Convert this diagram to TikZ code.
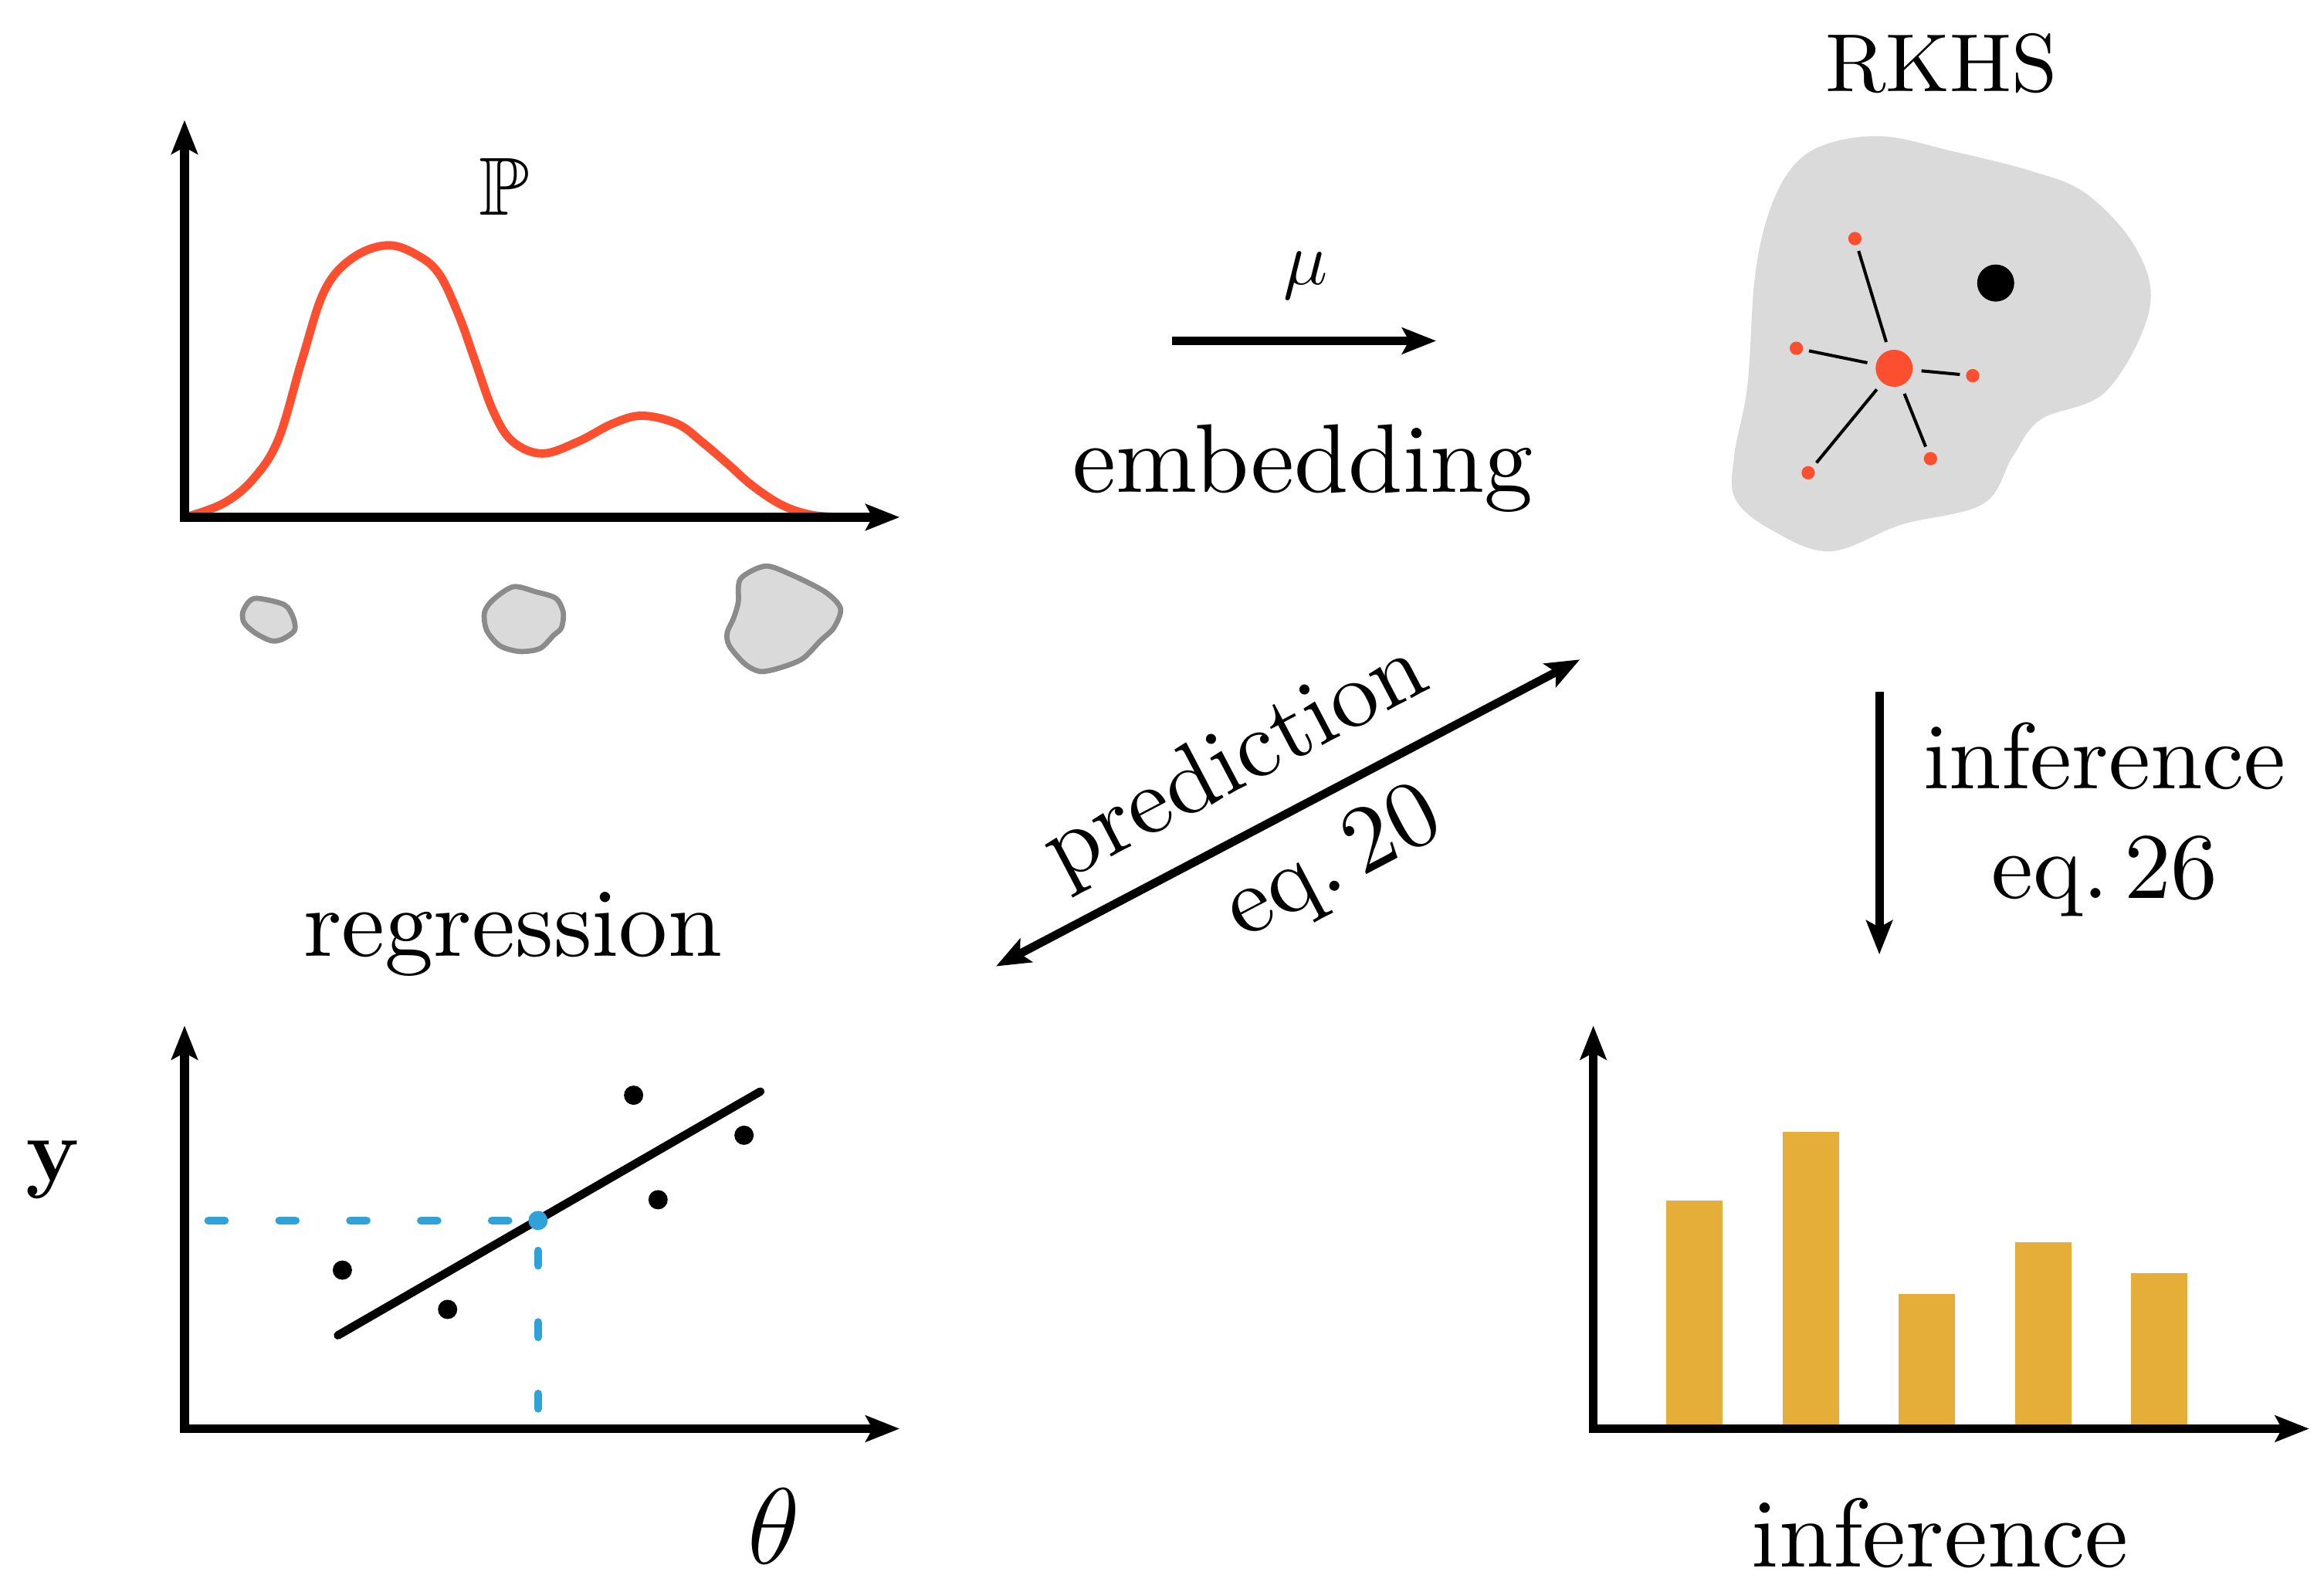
\documentclass[tikz,border=0pt]{standalone}
\usepackage{amsmath}
\usepackage{amssymb}
\usepackage[no-math]{fontspec}
\setmainfont{lmroman10-regular}[Extension=.otf]
\usepackage{tikz}
\usetikzlibrary{positioning, arrows.meta}

\definecolor{densityred}{HTML}{FC4F30}
\definecolor{bargold}{HTML}{E5AE38}
\definecolor{fitblue}{HTML}{30A2DA}
\definecolor{spacegray}{HTML}{DADADA}
\definecolor{edgegray}{HTML}{8B8B8B}

\begin{document}
\begin{tikzpicture}[
x=0.01cm, y=-0.01cm,
lbl/.style={anchor=base, inner sep=0pt, font=\fontsize{18.7}{22}\selectfont},
sidelbl/.style={anchor=base, inner sep=0pt, font=\fontsize{18}{22}\selectfont},
smalllbl/.style={anchor=base, inner sep=0pt, font=\fontsize{15.8}{19}\selectfont},
axisline/.style={line width=1.7pt, <->},
flow/.style={line width=1.6pt},
sample/.style={circle, fill=black, inner sep=0pt, minimum size=0.13cm},
feature/.style={circle, fill=densityred, inner sep=0pt, minimum size=0.09cm},
blob/.style={fill=spacegray, draw=edgegray, line width=1pt},
>={Stealth[length=6.5pt, width=5pt, inset=1.3pt]}
]
\useasboundingbox (0,0) rectangle (1568,1074);

\draw[densityred, line width=1.6pt] plot[smooth, tension=0.6] coordinates {
  (125,349) (151,339.5) (171,323) (188,296) (204,242) (219,196) (238,174)
  (262,165.5) (283,173) (297,186) (310,214) (320,242) (333,278) (346,298)
  (366,306) (390,298) (413,286) (433,280.5) (457,286) (474,298.5) (491,313)
  (508,328) (528,341) (548,347.5) (570,349)};
\coordinate (p-o) at (124.5,349);
\coordinate (p-y) at (124.5,81);
\coordinate (p-x) at (607,349);
\draw[axisline] (p-y) -- (p-o) -- (p-x);
\node[smalllbl] (pp) at (340,145) {$\mathbb{P}$};

\filldraw[blob] plot[smooth cycle] coordinates {
  (173.7,403.7) (191.8,408) (197.8,416.7) (198.7,425.4) (190.3,431.4)
  (182.8,432.3) (172.2,427.1) (164.7,420.2) (163.8,413.2) (167.7,406.3)};
\filldraw[blob] plot[smooth cycle] coordinates {
  (346.4,395.9) (361.4,399.3) (375,403.7) (380,413.2) (378.8,423.6)
  (373.4,428.8) (364.4,437.5) (350.9,439.6) (337.4,435.8) (328.4,425.4)
  (326.9,413.2) (332.9,404.5)};
\filldraw[blob] plot[smooth cycle] coordinates {
  (516.1,382) (532.6,387.2) (556.6,399.3) (567.1,410.6) (562.6,423.6)
  (553.6,432.3) (541.6,444.4) (526.6,450.5) (513.1,453.1) (502.6,448)
  (492.1,435.8) (490.6,427.1) (495.1,416.7) (498.1,406.3) (499.6,390.6)};

\coordinate (emb-l) at (791,230);
\coordinate (emb-r) at (969,230);
\draw[flow, ->] (emb-l) -- (emb-r);
\node[smalllbl] (mu) at (881,192) {$\mu$};
\node[lbl] (emb) at (879,332) {embedding};

\node[smalllbl] (rkhs) at (1310,62) {RKHS};
\fill[spacegray] plot[smooth cycle, tension=0.6] coordinates {
  (1271,92) (1233,97) (1210,112) (1194,142) (1184,187) (1179,260) (1170,308)
  (1171,337) (1196,358) (1235,372) (1283,354) (1338,340) (1358,308)
  (1377,283) (1421,264) (1450,210) (1442,169) (1408,131) (1369,115)
  (1317,102)};
\node[circle, fill=densityred, inner sep=0pt, minimum size=0.25cm] (c) at (1278,248.5) {};
\node[feature] (f1) at (1251.5,161) {};
\node[feature] (f2) at (1212,235) {};
\node[feature] (f3) at (1331,253.5) {};
\node[feature] (f4) at (1220,319) {};
\node[feature] (f5) at (1302.5,309.5) {};
\node[circle, fill=black, inner sep=0pt, minimum size=0.25cm] (m) at (1346.5,191) {};
\draw[line width=0.6pt, shorten <=1.5pt, shorten >=1pt] (c) -- (f1);
\draw[line width=0.6pt, shorten <=1.5pt, shorten >=1pt] (c) -- (f2);
\draw[line width=0.6pt, shorten <=1.5pt, shorten >=1pt] (c) -- (f3);
\draw[line width=0.6pt, shorten <=1.5pt, shorten >=1pt] (c) -- (f4);
\draw[line width=0.6pt, shorten <=1.5pt, shorten >=1pt] (c) -- (f5);

\coordinate (pr-a) at (672,652);
\coordinate (pr-b) at (1066,445);
\draw[flow, <->] (pr-a) -- node[lbl, sloped, pos=0.465, above=4pt, font=\fontsize{18.3}{22}\selectfont] (pred) {prediction}
  node[lbl, sloped, pos=0.525, below=4.5pt, font=\fontsize{18.3}{22}\selectfont] (pred-eq) {eq.\,20} (pr-b);

\coordinate (inf-t) at (1268,467);
\coordinate (inf-b) at (1268,644);
\draw[flow, ->] (inf-t) -- (inf-b);
\node[sidelbl] (inf) at (1420,532) {inference};
\node[sidelbl] (inf-eq) at (1420,606) {eq.\,26};

\node[lbl] (reg) at (346,645) {regression};
\node[sample] (s1) at (231,857) {};
\node[sample] (s2) at (302,883.5) {};
\node[sample] (s3) at (427.5,739) {};
\node[sample] (s4) at (444,809.5) {};
\node[sample] (s5) at (502,766) {};
\coordinate (fit-a) at (228,901);
\coordinate (fit-b) at (513,736.5);
\draw[flow, line cap=round] (fit-a) -- (fit-b);
\node[circle, fill=fitblue, inner sep=0pt, minimum size=0.13cm] (q) at (363,823.5) {};
\coordinate (q-y) at (140.6,823.5);
\coordinate (q-x) at (363,950.4);
\draw[fitblue, line width=1.56pt, line cap=round, dash pattern=on 0.11cm off 0.368cm] (q-y) -- (q);
\draw[fitblue, line width=1.56pt, line cap=round, dash pattern=on 0.10cm off 0.382cm] (q-x) -- (q);
\coordinate (r-o) at (124.5,964);
\coordinate (r-y) at (124.5,692);
\coordinate (r-x) at (607,964);
\draw[axisline] (r-y) -- (r-o) -- (r-x);
\node[anchor=base, inner sep=0pt, font=\fontsize{16}{19}\selectfont] (ylbl) at (36,797) {$\mathbf{y}$};
\node[lbl, font=\fontsize{19.5}{23}\selectfont] (theta) at (522,1055) {$\theta$};

\fill[bargold] (1124.2,964) rectangle (1162.2,810);
\fill[bargold] (1202.6,964) rectangle (1240.6,763.5);
\fill[bargold] (1281,964) rectangle (1319,873);
\fill[bargold] (1359.4,964) rectangle (1397.4,838);
\fill[bargold] (1437.8,964) rectangle (1475.8,859);
\coordinate (h-o) at (1075,964);
\coordinate (h-y) at (1075,692);
\coordinate (h-x) at (1558,964);
\draw[axisline] (h-y) -- (h-o) -- (h-x);
\node[lbl] (inf-bottom) at (1309,1057) {inference};
\end{tikzpicture}
\end{document}
